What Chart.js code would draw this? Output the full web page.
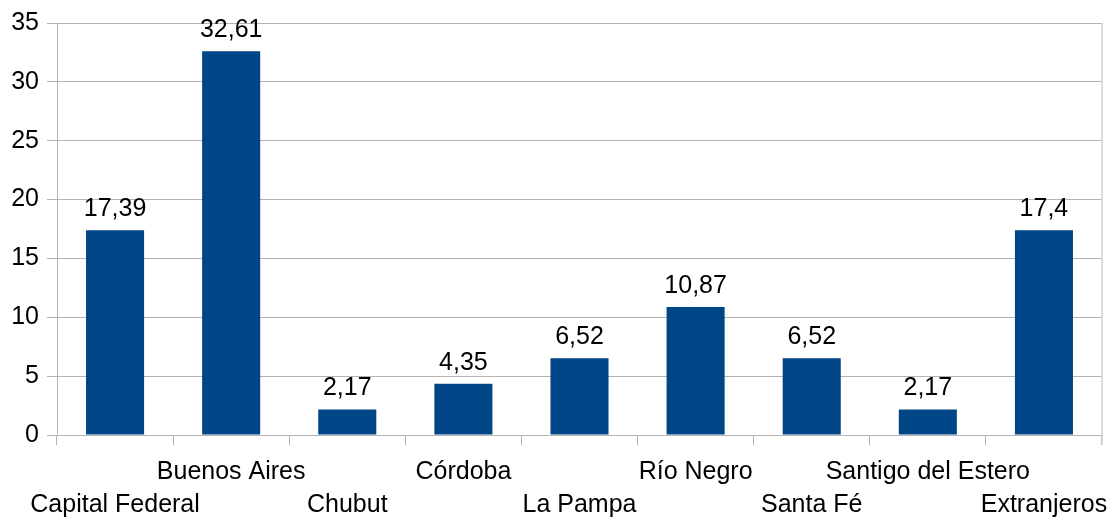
<!DOCTYPE html>
<html>
<head>
<meta charset="utf-8">
<script src="https://cdn.jsdelivr.net/npm/chart.js@4/dist/chart.umd.min.js"></script>
<style>
html,body{margin:0;padding:0;background:#fff;}
#wrap{width:1114px;height:517px;position:relative;}
</style>
</head>
<body>
<div id="wrap"><canvas id="c" width="1114" height="517"></canvas></div>
<script>
const categories = ["Capital Federal","Buenos Aires","Chubut","Córdoba","La Pampa","Río Negro","Santa Fé","Santigo del Estero","Extranjeros"];
const values = [17.39, 32.61, 2.17, 4.35, 6.52, 10.87, 6.52, 2.17, 17.4];
const valueLabels = ["17,39","32,61","2,17","4,35","6,52","10,87","6,52","2,17","17,4"];
const yTicks = [0,5,10,15,20,25,30,35];

const FONT = "'Liberation Sans', Arial, sans-serif";

const extras = {
  id: 'extras',
  afterDatasetsDraw(chart) {
    const ctx = chart.ctx;
    const meta = chart.getDatasetMeta(0);
    ctx.save();
    ctx.font = "25px " + FONT;
    ctx.fillStyle = "#000";
    ctx.textAlign = "center";
    ctx.textBaseline = "alphabetic";
    meta.data.forEach((bar, i) => {
      ctx.fillText(valueLabels[i], bar.x, bar.y - 14);
    });
    // right border
    const a = chart.chartArea;
    ctx.strokeStyle = "#cfcfcf";
    ctx.lineWidth = 1.5;
    ctx.beginPath();
    ctx.moveTo(a.right, a.top);
    ctx.lineTo(a.right, a.bottom + 10);
    ctx.stroke();
    ctx.restore();
  }
};

new Chart(document.getElementById('c'), {
  type: 'bar',
  data: {
    labels: categories,
    datasets: [{
      data: values,
      backgroundColor: '#004586',
      borderWidth: 0,
      barPercentage: 0.5,
      categoryPercentage: 1.0
    }]
  },
  options: {
    responsive: false,
    animation: false,
    devicePixelRatio: 1,
    layout: { padding: { top: 23, right: 12, left: 0, bottom: 0 } },
    plugins: { legend: { display: false }, tooltip: { enabled: false } },
    scales: {
      x: {
        grid: { display: true, drawOnChartArea: false, drawTicks: true, tickLength: 10, color: '#b3b3b3', offset: true, lineWidth: 1 },
        border: { display: true, color: '#b3b3b3' },
        ticks: {
          autoSkip: false, maxRotation: 0, minRotation: 0, padding: 11,
          color: '#000',
          font: { family: FONT, size: 25, lineHeight: 1.32 },
          callback: (v, i) => (i % 2 === 0 ? ['', categories[i]] : [categories[i], ''])
        },
        afterFit: (s) => { s.height = 82; s.paddingLeft = 0; s.paddingRight = 0; }
      },
      y: {
        min: 0, max: 35,
        afterBuildTicks: (s) => { s.ticks = yTicks.map(v => ({ value: v })); },
        grid: { color: '#b3b3b3', tickLength: 10, lineWidth: 1 },
        border: { display: true, color: '#b3b3b3' },
        ticks: { color: '#000', padding: 8, font: { family: FONT, size: 25 } },
        afterFit: (s) => { s.width = 57; }
      }
    }
  },
  plugins: [extras]
});
</script>
</body>
</html>
